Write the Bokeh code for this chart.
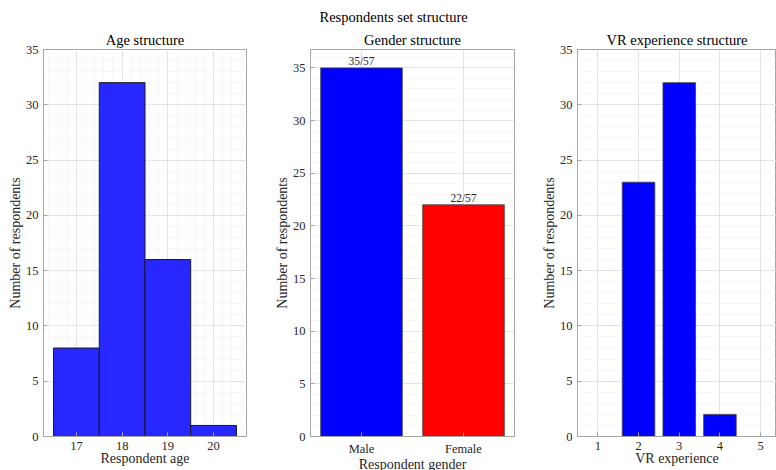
from bokeh.plotting import figure
from bokeh.layouts import row
from bokeh.models import (SingleIntervalTicker, FixedTicker, Title,
                          Range1d, ColumnDataSource, LabelSet)
from bokeh.embed import file_html
from bokeh.resources import INLINE

# ---- data ----
age_bin_edges = [16.5, 17.5, 18.5, 19.5, 20.5]
age_counts = [8, 32, 16, 1]

gender_labels = ["Male", "Female"]
gender_counts = [35, 22]

vr_levels = [1, 2, 3, 4, 5]
vr_counts = [0, 23, 32, 2, 0]

FONT = "Liberation Serif"
AX = "#a6a6a6"
TXT = "#262626"
MAJ = "#e3e3e3"
MIN = "#efefef"

FRAME_H = 387
TOP = 49
BOT = 34


def style(p, xticker, yticker, xminor=True):
    p.outline_line_color = AX
    p.xaxis.ticker = xticker
    p.yaxis.ticker = yticker
    for ax in p.axis:
        ax.axis_line_color = AX
        ax.major_tick_line_color = AX
        ax.major_tick_in = 4
        ax.major_tick_out = 0
        ax.minor_tick_in = 0
        ax.minor_tick_out = 0
        ax.major_label_text_font = FONT
        ax.major_label_text_font_size = "12.5px"
        ax.major_label_text_color = TXT
        ax.major_label_text_line_height = 1.0
        ax.axis_label_text_font = FONT
        ax.axis_label_text_font_size = "14px"
        ax.axis_label_text_color = TXT
        ax.axis_label_text_font_style = "normal"
        ax.axis_label_text_line_height = 1.0
    for ax in p.xaxis:
        ax.major_label_standoff = 5
        ax.axis_label_standoff = -2
    for ax in p.yaxis:
        ax.major_label_standoff = 5
        ax.axis_label_standoff = 0
    p.xgrid.grid_line_color = MAJ
    p.ygrid.grid_line_color = MAJ
    p.ygrid.minor_grid_line_color = MIN
    p.ygrid.minor_grid_line_dash = "1 1"
    if xminor:
        p.xgrid.minor_grid_line_color = MIN
        p.xgrid.minor_grid_line_dash = "1 1"


def title(p, text, size="14.5px", align="center", offset=0, standoff=4):
    p.add_layout(Title(text=text, align=align, text_font=FONT,
                       text_font_size=size, text_font_style="normal",
                       text_color="black", offset=offset, standoff=standoff),
                 "above")


def mk(x_range, y_range, left, fw, right):
    return figure(x_range=x_range, y_range=y_range, frame_width=fw,
                  frame_height=FRAME_H, min_border_left=left,
                  min_border_right=right, min_border_top=TOP,
                  min_border_bottom=BOT, output_backend="svg",
                  toolbar_location=None, title=None)


# ---- Age ----
p1 = mk(Range1d(16.28, 20.72), Range1d(0, 35), 43, 203, 20)
p1.quad(left=age_bin_edges[:-1], right=age_bin_edges[1:], top=age_counts,
        bottom=0, fill_color="#2727ff", line_color="#1a1a1a", line_width=1)
style(p1, SingleIntervalTicker(interval=1, num_minor_ticks=5),
      SingleIntervalTicker(interval=5, num_minor_ticks=5))
p1.xaxis.axis_label = "Respondent age"
p1.yaxis.axis_label = "Number of respondents"
title(p1, "Age structure")

# ---- Gender ----
gx = list(range(1, len(gender_labels) + 1))
total = sum(gender_counts)
src = ColumnDataSource(dict(x=gx, top=gender_counts,
                            color=["#0000ff", "#ff0000"],
                            lab=[f"{c}/{total}" for c in gender_counts]))
p2 = mk(Range1d(0.5, 2.5), Range1d(0, 36.75), 44, 204, 20)
p2.vbar(x="x", top="top", width=0.8, fill_color="color",
        line_color="#404040", line_width=0.8, source=src)
p2.add_layout(LabelSet(x="x", y="top", text="lab", source=src,
                       text_align="center", text_baseline="bottom",
                       y_offset=1, text_font=FONT, text_font_size="11.5px",
                       text_color=TXT))
style(p2, FixedTicker(ticks=gx, minor_ticks=[]),
      SingleIntervalTicker(interval=5, num_minor_ticks=5), xminor=False)
p2.xaxis.major_label_overrides = {i: l for i, l in zip(gx, gender_labels)}
p2.xaxis.axis_label = "Respondent gender"
p2.yaxis.axis_label = "Number of respondents"
title(p2, "Gender structure", standoff=4)
title(p2, "Respondents set structure", align="left", offset=9, standoff=6)

# ---- VR ----
vx = [x for x, c in zip(vr_levels, vr_counts) if c > 0]
vc = [c for c in vr_counts if c > 0]
p3 = mk(Range1d(0.5, 5.39), Range1d(0, 35), 43, 199, 0)
p3.vbar(x=vx, top=vc, width=0.8, fill_color="#0000ff",
        line_color="#404040", line_width=0.8)
style(p3, FixedTicker(ticks=vr_levels, minor_ticks=[]),
      SingleIntervalTicker(interval=5, num_minor_ticks=5), xminor=False)
p3.xaxis.axis_label = "VR experience"
p3.yaxis.axis_label = "Number of respondents"
title(p3, "VR experience structure")

lay = row(p1, p2, p3, spacing=0)
open("out.html", "w").write(file_html(lay, INLINE))
